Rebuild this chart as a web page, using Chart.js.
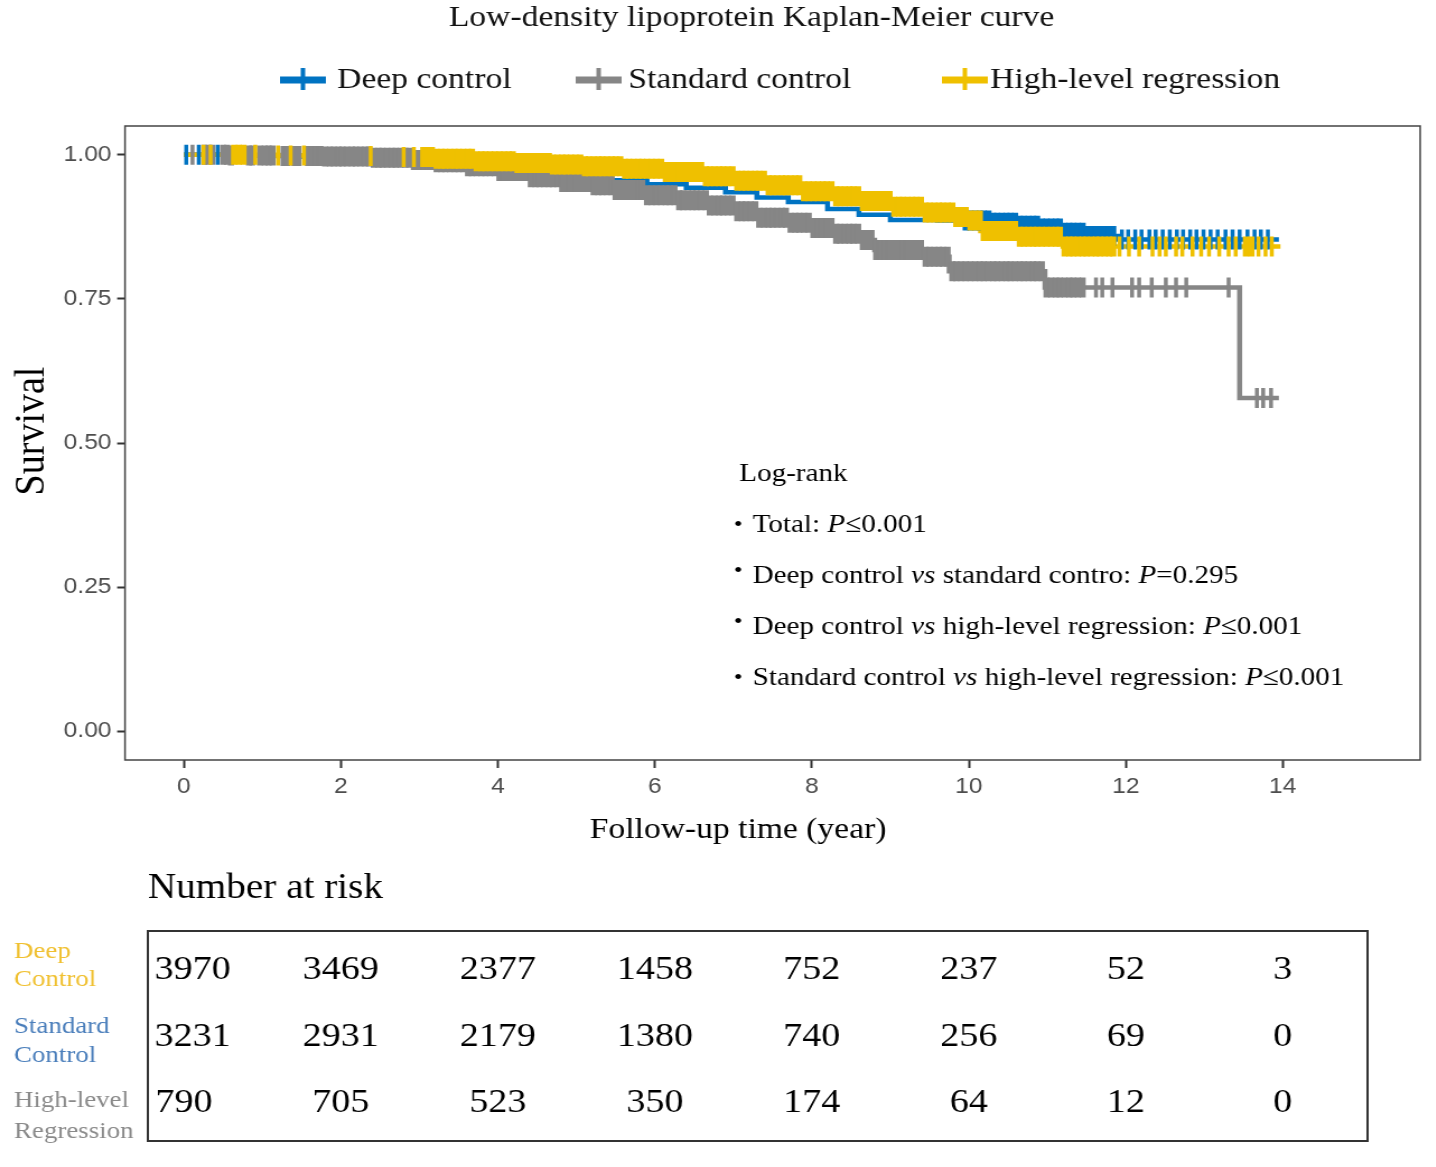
<!DOCTYPE html>
<html>
<head>
<meta charset="utf-8">
<title>Low-density lipoprotein Kaplan-Meier curve</title>
<script src="https://cdn.jsdelivr.net/npm/chart.js@4.4.1/dist/chart.umd.min.js"></script>
<style>
  html, body { margin: 0; padding: 0; background: #fff; overflow: hidden; }
  /* the original figure is stretched sideways, so the canvas is too */
  #wrap { width: 1282px; height: 1167px; transform: scaleX(1.12); transform-origin: 0 0; }
  #km { width: 1282px; height: 1167px; }
</style>
</head>
<body>
<div id="wrap"><canvas id="km" width="1282" height="1167"></canvas></div>
<script>
const chartTitle = "Low-density lipoprotein Kaplan-Meier curve";
const xTitle = "Follow-up time (year)";
const yTitle = "Survival";
const seriesNames = ["Deep control", "Standard control", "High-level regression"];
const seriesColors = ["#0073C2", "#868686", "#EFC000"];

const xTicks = [0, 2, 4, 6, 8, 10, 12, 14];
const yTicks = [0, 0.25, 0.5, 0.75, 1];

// step curves: time (years) and survival after each event
const deepTimes = [0, 0.7, 1.5, 2.2, 3.0, 3.8, 4.5, 5.0, 5.37, 5.9, 6.4, 6.9, 7.3, 7.7, 8.2, 8.6, 9.0, 9.6, 10.3, 10.6, 10.9, 11.2, 11.5, 11.9, 13.95];
const deepSurv  = [1, 0.999, 0.997, 0.994, 0.990, 0.984, 0.977, 0.970, 0.956, 0.949, 0.943, 0.935, 0.926, 0.918, 0.906, 0.896, 0.887, 0.886, 0.882, 0.877, 0.872, 0.865, 0.859, 0.853, 0.853];

const stdTimes = [0, 0.6, 1.2, 1.8, 2.4, 2.9, 3.2, 3.6, 4.0, 4.4, 4.8, 5.2, 5.5, 5.9, 6.3, 6.7, 7.0, 7.3, 7.7, 8.0, 8.3, 8.6, 8.8, 9.4, 9.75, 10.97, 13.45, 13.95];
const stdSurv  = [1, 0.999, 0.998, 0.997, 0.995, 0.991, 0.987, 0.980, 0.972, 0.961, 0.953, 0.947, 0.939, 0.930, 0.921, 0.912, 0.902, 0.891, 0.882, 0.873, 0.863, 0.852, 0.835, 0.823, 0.798, 0.770, 0.578, 0.578];

const highTimes = [0, 1.2, 2.0, 2.6, 3.2, 3.7, 4.2, 4.7, 5.1, 5.6, 6.1, 6.6, 7.0, 7.4, 7.9, 8.3, 8.6, 9.0, 9.4, 9.8, 10.0, 10.15, 10.6, 11.2, 13.97];
const highSurv  = [1, 0.999, 0.998, 0.996, 0.993, 0.989, 0.986, 0.983, 0.980, 0.976, 0.970, 0.963, 0.955, 0.947, 0.937, 0.928, 0.920, 0.910, 0.900, 0.892, 0.886, 0.868, 0.858, 0.841, 0.841];

// censoring times (the vertical tick marks)
const deepCensor = [0.03, 0.19, 0.43, 9.96,
  10.02, 10.08, 10.14, 10.19, 10.25, 10.31, 10.36, 10.42, 10.48, 10.53, 10.59, 10.65, 10.70, 10.76, 10.82, 10.87, 10.93, 10.99,
  11.05, 11.11, 11.16, 11.22, 11.28, 11.33, 11.39, 11.45, 11.50, 11.56, 11.62, 11.67, 11.73, 11.79, 11.84,
  11.95, 12.03, 12.12, 12.20, 12.30, 12.38, 12.47, 12.56, 12.65, 12.73, 12.82, 12.90, 12.99, 13.08, 13.17, 13.27, 13.36, 13.45, 13.55, 13.64, 13.72, 13.81];

const stdCensor = [0.11, 0.26, 0.31, 0.36, 0.50, 0.55, 0.60, 0.83, 0.87, 0.97, 1.03, 1.08, 1.13, 1.27, 1.32, 1.41, 1.46, 1.58, 1.63, 1.69, 1.74, 1.80, 1.86, 1.91, 1.97,
  2.02, 2.08, 2.14, 2.19, 2.25, 2.31, 2.36, 2.42, 2.48, 2.53, 2.59, 2.65, 2.70, 2.76, 2.82, 2.87, 2.93, 2.99,
  3.05, 3.11, 3.16, 3.22, 3.28, 3.33, 3.39, 3.45, 3.50, 3.56, 3.62, 3.67, 3.73, 3.79, 3.84, 3.90, 3.96,
  4.02, 4.08, 4.14, 4.19, 4.25, 4.31, 4.36, 4.42, 4.48, 4.53, 4.59, 4.65, 4.70, 4.76, 4.82, 4.87, 4.93, 4.99,
  5.05, 5.11, 5.16, 5.22, 5.28, 5.33, 5.39, 5.45, 5.50, 5.56, 5.62, 5.67, 5.73, 5.79, 5.84, 5.90, 5.96,
  6.02, 6.08, 6.14, 6.19, 6.25, 6.31, 6.36, 6.42, 6.48, 6.53, 6.59, 6.65, 6.70, 6.76, 6.82, 6.87, 6.93, 6.99,
  7.05, 7.11, 7.16, 7.22, 7.28, 7.33, 7.39, 7.45, 7.50, 7.56, 7.62, 7.67, 7.73, 7.79, 7.84, 7.90, 7.96,
  8.02, 8.08, 8.14, 8.19, 8.25, 8.31, 8.36, 8.42, 8.48, 8.53, 8.59, 8.65, 8.70, 8.76, 8.82, 8.87, 8.93, 8.99,
  9.05, 9.11, 9.16, 9.22, 9.28, 9.33, 9.39, 9.45, 9.50, 9.56, 9.62, 9.67, 9.73, 9.79, 9.84, 9.90, 9.96,
  10.02, 10.08, 10.14, 10.19, 10.25, 10.31, 10.36, 10.42, 10.48, 10.53, 10.59, 10.65, 10.70, 10.76, 10.82, 10.87, 10.93, 10.99,
  11.05, 11.11, 11.16, 11.22, 11.28, 11.33, 11.39, 11.45,
  11.62, 11.70, 11.83, 12.08, 12.17, 12.33, 12.51, 12.64, 12.77, 13.31, 13.67, 13.75, 13.85];

const highCensor = [0.25, 0.34, 0.64, 0.70, 0.76, 0.91, 1.20, 1.36, 1.53, 2.38, 2.80, 2.93,
  3.05, 3.11, 3.16, 3.22, 3.28, 3.33, 3.39, 3.45, 3.50, 3.56, 3.62, 3.67, 3.73, 3.79, 3.84, 3.90, 3.96,
  4.02, 4.08, 4.14, 4.19, 4.25, 4.31, 4.36, 4.42, 4.48, 4.53, 4.59, 4.65, 4.70, 4.76, 4.82, 4.87, 4.93, 4.99,
  5.05, 5.11, 5.16, 5.22, 5.28, 5.33, 5.39, 5.45, 5.50, 5.56, 5.62, 5.67, 5.73, 5.79, 5.84, 5.90, 5.96,
  6.02, 6.08, 6.14, 6.19, 6.25, 6.31, 6.36, 6.42, 6.48, 6.53, 6.59, 6.65, 6.70, 6.76, 6.82, 6.87, 6.93, 6.99,
  7.05, 7.11, 7.16, 7.22, 7.28, 7.33, 7.39, 7.45, 7.50, 7.56, 7.62, 7.67, 7.73, 7.79, 7.84, 7.90, 7.96,
  8.02, 8.08, 8.14, 8.19, 8.25, 8.31, 8.36, 8.42, 8.48, 8.53, 8.59, 8.65, 8.70, 8.76, 8.82, 8.87, 8.93, 8.99,
  9.05, 9.11, 9.16, 9.22, 9.28, 9.33, 9.39, 9.45, 9.50, 9.56, 9.62, 9.67, 9.73, 9.79, 9.84, 9.90, 9.96,
  10.02, 10.08, 10.14, 10.19, 10.25, 10.31, 10.36, 10.42, 10.48, 10.53, 10.59, 10.65, 10.70, 10.76, 10.82, 10.87, 10.93, 10.99,
  11.05, 11.11, 11.16, 11.22, 11.28, 11.33, 11.39, 11.45, 11.50, 11.56, 11.62, 11.67, 11.73, 11.79, 11.84,
  11.92, 12.04, 12.17, 12.34, 12.43, 12.51, 12.64, 12.72, 12.85, 12.96, 13.06, 13.19, 13.31, 13.40, 13.53, 13.60, 13.69, 13.78, 13.86];

// log-rank annotation: [text, italic]
const logRankHeader = "Log-rank";
const logRankLines = [
  [["Total: ", false], ["P", true], ["\u22640.001", false]],
  [["Deep control ", false], ["vs", true], [" standard contro: ", false], ["P", true], ["=0.295", false]],
  [["Deep control ", false], ["vs", true], [" high-level regression: ", false], ["P", true], ["\u22640.001", false]],
  [["Standard control ", false], ["vs", true], [" high-level regression: ", false], ["P", true], ["\u22640.001", false]]
];

// number at risk table
const riskTitle = "Number at risk";
const riskLabels = [["Deep", "Control"], ["Standard", "Control"], ["High-level", "Regression"]];
const riskLabelColors = ["#F0C030", "#4A7EBB", "#8A8A8A"];
const riskDeep = [3970, 3469, 2377, 1458, 752, 237, 52, 3];
const riskStandard = [3231, 2931, 2179, 1380, 740, 256, 69, 0];
const riskHigh = [790, 705, 523, 350, 174, 64, 12, 0];

const SERIF = '"Liberation Serif", "Times New Roman", serif';
const SANS = '"Liberation Sans", Arial, sans-serif';

function stepPoints(times, surv) {
  return times.map((t, i) => ({ x: t, y: surv[i] }));
}

function survAt(times, surv, t) {
  let s = surv[0];
  for (let i = 0; i < times.length; i++) {
    if (times[i] <= t) s = surv[i];
    else break;
  }
  return s;
}

function censorPoints(times, surv, cens) {
  return cens.map(t => ({ x: t, y: survAt(times, surv, t) }));
}

// ticks packed close together get a little wider so the run reads as solid
function tickWidths(cens) {
  return cens.map((t, i) => {
    const prev = i > 0 ? t - cens[i - 1] : 1;
    const next = i < cens.length - 1 ? cens[i + 1] - t : 1;
    return Math.min(prev, next) < 0.075 ? 5.5 : 3.5;
  });
}

function curveDataset(label, times, surv, color, order) {
  return {
    label: label,
    data: stepPoints(times, surv),
    stepped: true,
    borderColor: color,
    borderWidth: 4.5,
    pointRadius: 0,
    fill: false,
    order: order
  };
}

function censorDataset(label, times, surv, cens, color, order) {
  return {
    label: label + " censored",
    data: censorPoints(times, surv, cens),
    showLine: false,
    pointStyle: "line",
    pointRotation: 90,
    pointRadius: 10,
    pointBorderWidth: tickWidths(cens),
    pointBorderColor: color,
    pointBackgroundColor: color,
    order: order
  };
}

function drawText(ctx, s, x, y, size, color, align, italic) {
  ctx.font = (italic ? "italic " : "") + size + "px " + SERIF;
  ctx.fillStyle = color || "#000";
  ctx.textAlign = align || "left";
  ctx.textBaseline = "middle";
  ctx.fillText(s, x, y);
}

function drawRich(ctx, parts, x, y, size) {
  let cx = x;
  parts.forEach(p => {
    ctx.font = (p[1] ? "italic " : "") + size + "px " + SERIF;
    ctx.fillStyle = "#000";
    ctx.textAlign = "left";
    ctx.textBaseline = "middle";
    ctx.fillText(p[0], cx, y);
    cx += ctx.measureText(p[0]).width;
  });
}

const decor = {
  id: "decor",
  afterDraw(chart) {
    const ctx = chart.ctx;
    const a = chart.chartArea;
    const xs = chart.scales.x;
    ctx.save();

    // panel border
    ctx.strokeStyle = "#444";
    ctx.lineWidth = 1.5;
    ctx.strokeRect(a.left, a.top, a.right - a.left, a.bottom - a.top);

    // axis titles
    drawText(ctx, xTitle, 659, 830, 30, "#000", "center");
    ctx.save();
    ctx.translate(29, 431);
    ctx.rotate(-Math.PI / 2);
    drawText(ctx, yTitle, 0, 0, 38, "#000", "center");
    ctx.restore();

    // title
    drawText(ctx, chartTitle, 671, 18, 30, "#111", "center");

    // legend
    const markX = [250, 514, 841];
    const textX = [301, 561, 884];
    seriesNames.forEach((name, i) => {
      ctx.strokeStyle = seriesColors[i];
      ctx.lineWidth = 7;
      ctx.beginPath();
      ctx.moveTo(markX[i], 80);
      ctx.lineTo(markX[i] + 41, 80);
      ctx.stroke();
      ctx.lineWidth = 4;
      ctx.beginPath();
      ctx.moveTo(markX[i] + 20.5, 68);
      ctx.lineTo(markX[i] + 20.5, 90);
      ctx.stroke();
      drawText(ctx, name, textX[i], 80, 30, "#111");
    });

    // log-rank annotation
    drawText(ctx, logRankHeader, 660, 474, 26, "#000");
    const lineY = [525, 576, 627, 678];
    const bulletY = [525, 571, 622, 678];
    logRankLines.forEach((parts, i) => {
      drawText(ctx, "\u2022", 659, bulletY[i], 22, "#000", "center");
      drawRich(ctx, parts, 672, lineY[i], 26);
    });

    // number at risk
    drawText(ctx, riskTitle, 132, 889, 35, "#000");
    const boxL = 132, boxR = 1221, boxT = 931, boxB = 1141;
    ctx.strokeStyle = "#333";
    ctx.lineWidth = 2;
    ctx.strokeRect(boxL, boxT, boxR - boxL, boxB - boxT);

    const labelY = [[952, 980], [1027, 1056], [1101, 1132]];
    riskLabels.forEach((lines, r) => {
      lines.forEach((s, k) => drawText(ctx, s, 12.5, labelY[r][k], 24, riskLabelColors[r]));
    });

    const rows = [riskDeep, riskStandard, riskHigh];
    const rowY = [970, 1037, 1103];
    ctx.font = "34px " + SERIF;
    rows.forEach((vals, r) => {
      vals.forEach((v, i) => {
        const s = String(v);
        const w = ctx.measureText(s).width;
        let cx = xs.getPixelForValue(xTicks[i]);
        cx = Math.max(cx, boxL + 6 + w / 2);
        drawText(ctx, s, cx, rowY[r], 34, "#000", "center");
      });
    });

    ctx.restore();
  }
};

new Chart(document.getElementById("km"), {
  type: "line",
  data: {
    datasets: [
      censorDataset(seriesNames[2], highTimes, highSurv, highCensor, seriesColors[2], 1),
      censorDataset(seriesNames[1], stdTimes, stdSurv, stdCensor, seriesColors[1], 2),
      censorDataset(seriesNames[0], deepTimes, deepSurv, deepCensor, seriesColors[0], 3),
      curveDataset(seriesNames[2], highTimes, highSurv, seriesColors[2], 4),
      curveDataset(seriesNames[1], stdTimes, stdSurv, seriesColors[1], 5),
      curveDataset(seriesNames[0], deepTimes, deepSurv, seriesColors[0], 6)
    ]
  },
  options: {
    responsive: false,
    animation: false,
    events: [],
    layout: { padding: { top: 126, right: 14, bottom: 307, left: 0 } },
    plugins: {
      legend: { display: false },
      title: { display: false },
      tooltip: { enabled: false }
    },
    scales: {
      x: {
        type: "linear",
        min: -0.75,
        max: 15.75,
        afterBuildTicks: s => { s.ticks = xTicks.map(v => ({ value: v })); },
        afterFit: s => { s.height = 100; },
        grid: { display: true, drawOnChartArea: false, drawTicks: true, tickLength: 8, tickColor: "#333", tickWidth: 2 },
        border: { display: false },
        ticks: {
          font: { family: SANS, size: 22 },
          color: "#4d4d4d",
          padding: 6,
          maxRotation: 0,
          autoSkip: false,
          callback: v => String(v)
        }
      },
      y: {
        type: "linear",
        min: -0.05,
        max: 1.05,
        afterBuildTicks: s => { s.ticks = yTicks.map(v => ({ value: v })); },
        afterFit: s => { s.width = 111.6; },
        grid: { display: true, drawOnChartArea: false, drawTicks: true, tickLength: 7, tickColor: "#333", tickWidth: 2 },
        border: { display: false },
        ticks: {
          font: { family: SANS, size: 22 },
          color: "#4d4d4d",
          padding: 5,
          autoSkip: false,
          callback: v => v.toFixed(2)
        }
      }
    }
  },
  plugins: [decor]
});
</script>
</body>
</html>
